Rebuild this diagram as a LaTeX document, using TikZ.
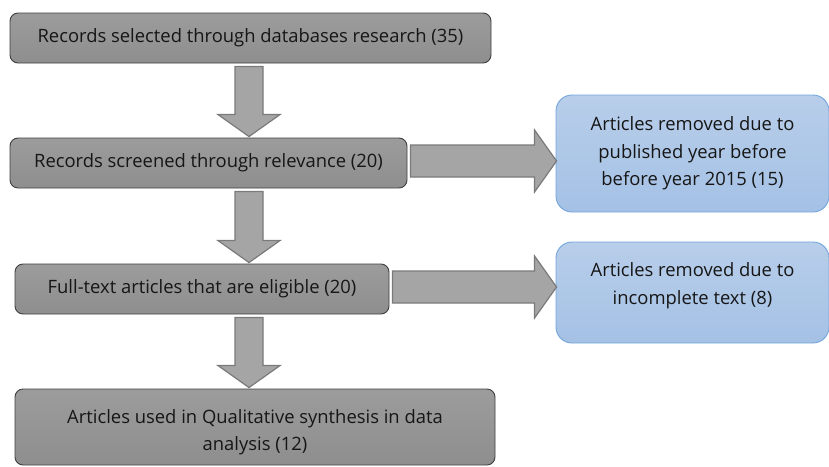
\documentclass[tikz,border=0pt]{standalone}
\usepackage{fontspec}
\setmainfont{Open Sans}
\usetikzlibrary{calc}
\definecolor{graytop}{HTML}{9C9C9C}
\definecolor{graybot}{HTML}{8E8E8E}
\definecolor{grayedge}{HTML}{3F3F3F}
\definecolor{arrowfill}{HTML}{A5A5A5}
\definecolor{arrowedge}{HTML}{7A7A7A}
\definecolor{bluetop}{HTML}{B8CEEA}
\definecolor{bluebot}{HTML}{A4C1E5}
\definecolor{blueedge}{HTML}{74A5DC}
\definecolor{inktext}{HTML}{161616}

\begin{document}
\begin{tikzpicture}[x=1pt,y=-1pt,
    graybox/.style={draw=grayedge, line width=0.9pt, rounded corners=8pt,
        top color=graytop, bottom color=graybot, text=inktext, align=center,
        inner sep=0pt, font=\fontsize{18.4}{26.5}\selectfont},
    bluebox/.style={draw=blueedge, line width=0.9pt, rounded corners=16pt,
        top color=bluetop, bottom color=bluebot, text=inktext, align=center,
        inner sep=0pt, font=\fontsize{18.4}{27.5}\selectfont},
    fatdown/.style={fill=arrowfill, draw=arrowedge, line width=1.2pt,
        to path={let \p1=(\tikztostart), \p2=(\tikztotarget) in
            (\x1-14pt,\y1-3pt) -- (\x1+14pt,\y1-3pt) -- (\x1+14pt,\y2+23pt)
            -- (\x1+31pt,\y2+23pt) -- (\x1,\y2+1pt) -- (\x1-31pt,\y2+23pt)
            -- (\x1-14pt,\y2+23pt) -- cycle}},
    fatright/.style={fill=arrowfill, draw=arrowedge, line width=1.2pt,
        to path={let \p1=(\tikztostart), \p2=(\tikztotarget) in
            (\x1+3pt,\y1+18pt) -- (\x2-21pt,\y1+18pt) -- (\x2-21pt,\y1+33pt)
            -- (\x2+1pt,\y1+2pt) -- (\x2-21pt,\y1-29pt) -- (\x2-21pt,\y1-14pt)
            -- (\x1+3pt,\y1-14pt) -- cycle}}]
    \useasboundingbox (0,0) rectangle (829,466);
    \coordinate (col) at (249,0);
    \node[graybox, minimum width=481, minimum height=50] at (250.5,38) (rec) {Records selected through databases research (35)};
    \node[graybox, minimum width=397, minimum height=50] at (208.5,163) (scr) {Records screened through relevance (20)};
    \node[graybox, minimum width=374, minimum height=50] at (202,289) (full) {Full-text articles that are eligible (20)};
    \node[graybox, minimum width=480, minimum height=76] at (255,427) (used) {\rule{0pt}{24pt}Articles used in Qualitative synthesis in data\\analysis (12)};
    \node[bluebox, minimum width=273, minimum height=117] at (692.5,153.5) (year) {Articles removed due to\\published year before\\before year 2015 (15)};
    \node[bluebox, minimum width=273, minimum height=101] at (692.5,292.5) (incomp) {Articles removed due to\\incomplete text (8)\\[-9.5pt]};
    \draw[fatdown] (rec.south -| col) to (scr.north -| col);
    \draw[fatdown] (scr.south -| col) to (full.north -| col);
    \draw[fatdown] (full.south -| col) to (used.north -| col);
    \draw[fatright] (scr.east) to (year.west);
    \draw[fatright] (full.east) to (incomp.west);
\end{tikzpicture}
\end{document}
